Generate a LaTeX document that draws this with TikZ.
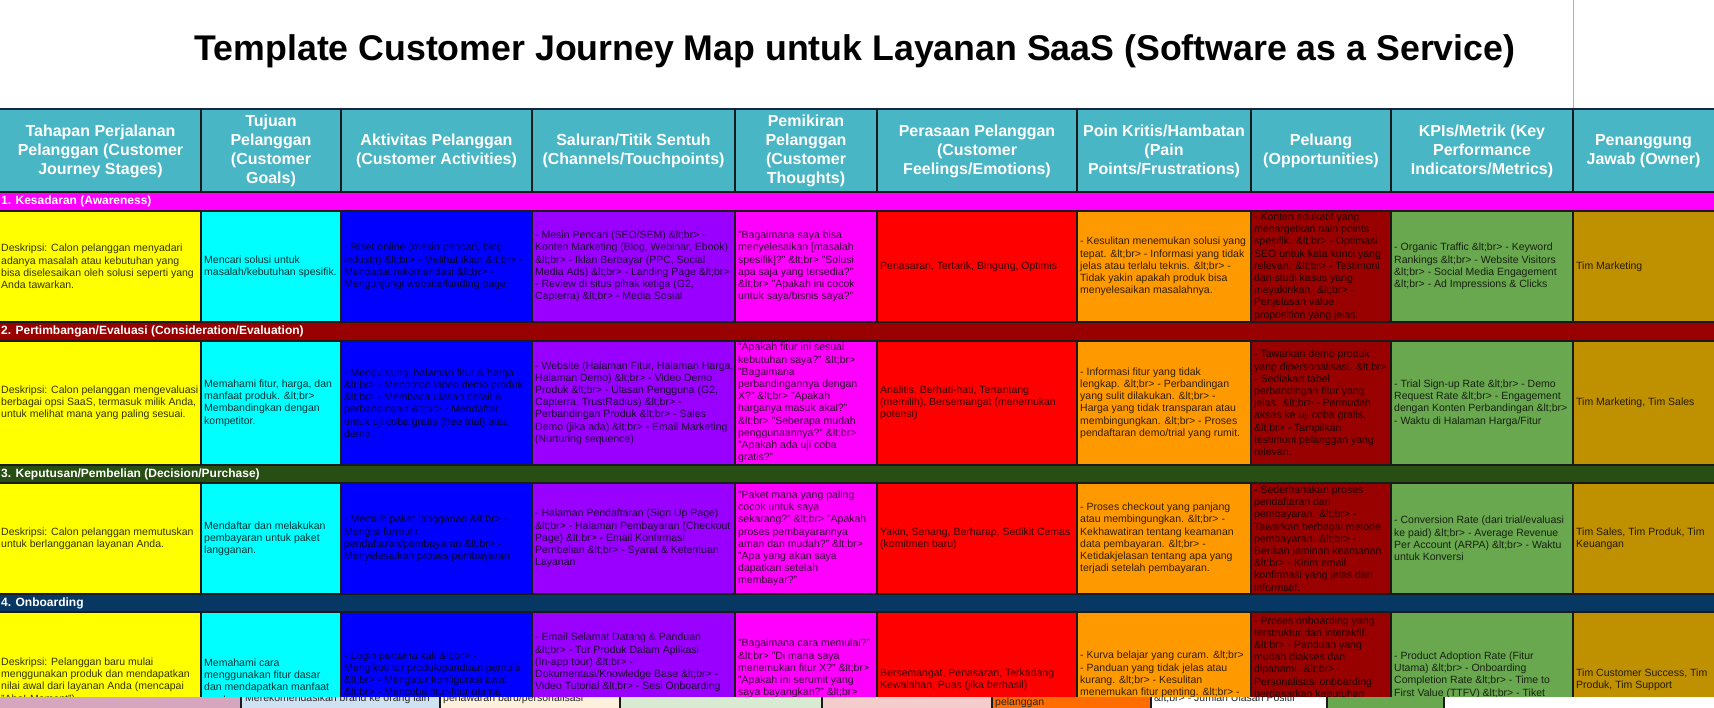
\documentclass[tikz,border=0pt]{standalone}
\usepackage{fontspec}
\setmainfont{Liberation Sans}
\definecolor{hdr}{HTML}{48B6C4}
\definecolor{bandA}{HTML}{FF00FF}
\definecolor{bandB}{HTML}{990000}
\definecolor{bandC}{HTML}{274E13}
\definecolor{bandD}{HTML}{073763}
\definecolor{cYel}{HTML}{FFFF00}
\definecolor{cCya}{HTML}{00FFFF}
\definecolor{cBlu}{HTML}{0000FF}
\definecolor{cPur}{HTML}{9900FF}
\definecolor{cMag}{HTML}{FF00FF}
\definecolor{cRed}{HTML}{FF0000}
\definecolor{cOra}{HTML}{FF9900}
\definecolor{cDrd}{HTML}{990000}
\definecolor{cGrn}{HTML}{6AA84F}
\definecolor{cGld}{HTML}{BF9000}
\definecolor{sPink}{HTML}{D5A6BD}
\definecolor{sBlue}{HTML}{CFE2F3}
\definecolor{sCream}{HTML}{FDF0DC}
\definecolor{sGreen}{HTML}{D9EAD3}
\definecolor{sRose}{HTML}{F4CCCC}
\definecolor{sOrange}{HTML}{FF6D01}
\definecolor{gridc}{HTML}{1A1A1A}
\definecolor{navyline}{HTML}{0E2A47}
\definecolor{thinline}{HTML}{9FB3C8}
% name, x1, x2, y1, y2, fill, text x, text y, text
\newcommand\cellbox[9]{%
  \begin{scope}
    \clip (#2,#4) rectangle (#3,#5);
    \fill[#6] (#2,#4) rectangle (#3,#5);
    \node[celltext, anchor=west] (#1) at (#7,#8) {#9};
  \end{scope}}
\begin{document}
\begin{tikzpicture}[x=1pt,y=-1pt,
  celltext/.style={inner sep=0pt, align=left, text=black, text opacity=0.8,
    font=\fontsize{10.5}{12.2}\selectfont},
  headtext/.style={inner sep=0pt, align=center, text=white,
    font=\bfseries\fontsize{16}{19}\selectfont},
  bandtext/.style={inner sep=0pt, anchor=west, text=white,
    font=\bfseries\fontsize{12}{14}\selectfont},
  striptext/.style={inner sep=0pt, anchor=base west, text=black!85,
    font=\fontsize{10.5}{12.2}\selectfont},
  gridline/.style={draw=gridc, line width=1.1pt},
]
\useasboundingbox (0,0) rectangle (1714,708);
\fill[white] (0,0) rectangle (1714,708);

% title
\draw[thinline, line width=1pt] (1573,0) -- (1573,109);
\node[inner sep=0pt, anchor=base, font=\bfseries\fontsize{35.7}{40}\selectfont] (title) at (855,61)
  {Template Customer Journey Map untuk Layanan SaaS (Software as a Service)};

% header row
\fill[hdr] (0,109) rectangle (1714,192);
\node[headtext] (h1) at (100.5,151) {Tahapan Perjalanan\\Pelanggan (Customer\\Journey Stages)};
\node[headtext] (h2) at (271,151) {Tujuan\\Pelanggan\\(Customer\\Goals)};
\node[headtext] (h3) at (436.5,151) {Aktivitas Pelanggan\\(Customer Activities)};
\node[headtext] (h4) at (633.5,151) {Saluran/Titik Sentuh\\(Channels/Touchpoints)};
\node[headtext] (h5) at (806,151) {Pemikiran\\Pelanggan\\(Customer\\Thoughts)};
\node[headtext] (h6) at (977,151) {Perasaan Pelanggan\\(Customer\\Feelings/Emotions)};
\node[headtext] (h7) at (1164,151) {Poin Kritis/Hambatan\\(Pain\\Points/Frustrations)};
\node[headtext] (h8) at (1321,151) {Peluang\\(Opportunities)};
\node[headtext] (h9) at (1482,151) {KPIs/Metrik (Key\\Performance\\Indicators/Metrics)};
\node[headtext] (h10) at (1643.5,151) {Penanggung\\Jawab (Owner)};

% bands
\fill[bandA] (0,192) rectangle (1714,211);
\node[bandtext] (b1) at (1,201.5) {1. Kesadaran (Awareness)};
\fill[bandB] (0,322) rectangle (1714,341);
\node[bandtext] (b2) at (1,331.5) {2. Pertimbangan/Evaluasi (Consideration/Evaluation)};
\fill[bandC] (0,465) rectangle (1714,483);
\node[bandtext] (b3) at (1,474) {3. Keputusan/Pembelian (Decision/Purchase)};
\fill[bandD] (0,594) rectangle (1714,612);
\node[bandtext] (b4) at (1,603) {4. Onboarding};

% ---------- row 1 ----------
\cellbox{r1c1}{0}{201}{211}{322}{cYel}{1}{266.5}{Deskripsi: Calon pelanggan menyadari\\adanya masalah atau kebutuhan yang\\bisa diselesaikan oleh solusi seperti yang\\Anda tawarkan.}
\cellbox{r1c2}{201}{341}{211}{322}{cCya}{204}{266.5}{Mencari solusi untuk\\masalah/kebutuhan spesifik.}
\cellbox{r1c3}{341}{532}{211}{322}{cBlu}{344}{266.5}{- Riset online (mesin pencari, blog\\industri) \&lt;br> - Melihat iklan \&lt;br> -\\Mendapat rekomendasi \&lt;br> -\\Mengunjungi website/landing page}
\cellbox{r1c4}{532}{735}{211}{322}{cPur}{535}{266.5}{- Mesin Pencari (SEO/SEM) \&lt;br> -\\Konten Marketing (Blog, Webinar, Ebook)\\\&lt;br> - Iklan Berbayar (PPC, Social\\Media Ads) \&lt;br> - Landing Page \&lt;br>\\- Review di situs pihak ketiga (G2,\\Capterra) \&lt;br> - Media Sosial}
\cellbox{r1c5}{735}{877}{211}{322}{cMag}{738}{266.5}{"Bagaimana saya bisa\\menyelesaikan [masalah\\spesifik]?" \&lt;br> "Solusi\\apa saja yang tersedia?"\\\&lt;br> "Apakah ini cocok\\untuk saya/bisnis saya?"}
\cellbox{r1c6}{877}{1077}{211}{322}{cRed}{880}{266.5}{Penasaran, Tertarik, Bingung, Optimis}
\cellbox{r1c7}{1077}{1251}{211}{322}{cOra}{1080}{266.5}{- Kesulitan menemukan solusi yang\\tepat. \&lt;br> - Informasi yang tidak\\jelas atau terlalu teknis. \&lt;br> -\\Tidak yakin apakah produk bisa\\menyelesaikan masalahnya.}
\cellbox{r1c8}{1251}{1391}{211}{322}{cDrd}{1254}{266.5}{- Konten edukatif yang\\menargetkan pain points\\spesifik. \&lt;br> - Optimasi\\SEO untuk kata kunci yang\\relevan. \&lt;br> - Testimoni\\dan studi kasus yang\\meyakinkan. \&lt;br> -\\Penjelasan value\\proposition yang jelas.}
\cellbox{r1c9}{1391}{1573}{211}{322}{cGrn}{1394}{266.5}{- Organic Traffic \&lt;br> - Keyword\\Rankings \&lt;br> - Website Visitors\\\&lt;br> - Social Media Engagement\\\&lt;br> - Ad Impressions \& Clicks}
\cellbox{r1c10}{1573}{1714}{211}{322}{cGld}{1576}{266.5}{Tim Marketing}

% ---------- row 2 ----------
\cellbox{r2c1}{0}{201}{341}{465}{cYel}{1}{403}{Deskripsi: Calon pelanggan mengevaluasi\\berbagai opsi SaaS, termasuk milik Anda,\\untuk melihat mana yang paling sesuai.}
\cellbox{r2c2}{201}{341}{341}{465}{cCya}{204}{403}{Memahami fitur, harga, dan\\manfaat produk. \&lt;br>\\Membandingkan dengan\\kompetitor.}
\cellbox{r2c3}{341}{532}{341}{465}{cBlu}{344}{403}{- Mengunjungi halaman fitur \& harga\\\&lt;br> - Menonton video demo produk\\\&lt;br> - Membaca ulasan detail \&\\perbandingan \&lt;br> - Mendaftar\\untuk uji coba gratis (free trial) atau\\demo}
\cellbox{r2c4}{532}{735}{341}{465}{cPur}{535}{403}{- Website (Halaman Fitur, Halaman Harga,\\Halaman Demo) \&lt;br> - Video Demo\\Produk \&lt;br> - Ulasan Pengguna (G2,\\Capterra, TrustRadius) \&lt;br> -\\Perbandingan Produk \&lt;br> - Sales\\Demo (jika ada) \&lt;br> - Email Marketing\\(Nurturing sequence)}
\cellbox{r2c5}{735}{877}{341}{465}{cMag}{738}{403}{"Apakah fitur ini sesuai\\kebutuhan saya?" \&lt;br>\\"Bagaimana\\perbandingannya dengan\\X?" \&lt;br> "Apakah\\harganya masuk akal?"\\\&lt;br> "Seberapa mudah\\penggunaannya?" \&lt;br>\\"Apakah ada uji coba\\gratis?"}
\cellbox{r2c6}{877}{1077}{341}{465}{cRed}{880}{403}{Analitis, Berhati-hati, Tertantang\\(memilih), Bersemangat (menemukan\\potensi)}
\cellbox{r2c7}{1077}{1251}{341}{465}{cOra}{1080}{403}{- Informasi fitur yang tidak\\lengkap. \&lt;br> - Perbandingan\\yang sulit dilakukan. \&lt;br> -\\Harga yang tidak transparan atau\\membingungkan. \&lt;br> - Proses\\pendaftaran demo/trial yang rumit.}
\cellbox{r2c8}{1251}{1391}{341}{465}{cDrd}{1254}{403}{- Tawarkan demo produk\\yang dipersonalisasi. \&lt;br>\\- Sediakan tabel\\perbandingan fitur yang\\jelas. \&lt;br> - Permudah\\akses ke uji coba gratis.\\\&lt;br> - Tampilkan\\testimoni pelanggan yang\\relevan.}
\cellbox{r2c9}{1391}{1573}{341}{465}{cGrn}{1394}{403}{- Trial Sign-up Rate \&lt;br> - Demo\\Request Rate \&lt;br> - Engagement\\dengan Konten Perbandingan \&lt;br>\\- Waktu di Halaman Harga/Fitur}
\cellbox{r2c10}{1573}{1714}{341}{465}{cGld}{1576}{403}{Tim Marketing, Tim Sales}

% ---------- row 3 ----------
\cellbox{r3c1}{0}{201}{483}{594}{cYel}{1}{538.5}{Deskripsi: Calon pelanggan memutuskan\\untuk berlangganan layanan Anda.}
\cellbox{r3c2}{201}{341}{483}{594}{cCya}{204}{538.5}{Mendaftar dan melakukan\\pembayaran untuk paket\\langganan.}
\cellbox{r3c3}{341}{532}{483}{594}{cBlu}{344}{538.5}{- Memilih paket langganan \&lt;br> -\\Mengisi formulir\\pendaftaran/pembayaran \&lt;br> -\\Menyelesaikan proses pembayaran}
\cellbox{r3c4}{532}{735}{483}{594}{cPur}{535}{538.5}{- Halaman Pendaftaran (Sign Up Page)\\\&lt;br> - Halaman Pembayaran (Checkout\\Page) \&lt;br> - Email Konfirmasi\\Pembelian \&lt;br> - Syarat \& Ketentuan\\Layanan}
\cellbox{r3c5}{735}{877}{483}{594}{cMag}{738}{538.5}{"Paket mana yang paling\\cocok untuk saya\\sekarang?" \&lt;br> "Apakah\\proses pembayarannya\\aman dan mudah?" \&lt;br>\\"Apa yang akan saya\\dapatkan setelah\\membayar?"}
\cellbox{r3c6}{877}{1077}{483}{594}{cRed}{880}{538.5}{Yakin, Senang, Berharap, Sedikit Cemas\\(komitmen baru)}
\cellbox{r3c7}{1077}{1251}{483}{594}{cOra}{1080}{538.5}{- Proses checkout yang panjang\\atau membingungkan. \&lt;br> -\\Kekhawatiran tentang keamanan\\data pembayaran. \&lt;br> -\\Ketidakjelasan tentang apa yang\\terjadi setelah pembayaran.}
\cellbox{r3c8}{1251}{1391}{483}{594}{cDrd}{1254}{538.5}{- Sederhanakan proses\\pendaftaran dan\\pembayaran. \&lt;br> -\\Tawarkan berbagai metode\\pembayaran. \&lt;br> -\\Berikan jaminan keamanan.\\\&lt;br> - Kirim email\\konfirmasi yang jelas dan\\informatif.}
\cellbox{r3c9}{1391}{1573}{483}{594}{cGrn}{1394}{538.5}{- Conversion Rate (dari trial/evaluasi\\ke paid) \&lt;br> - Average Revenue\\Per Account (ARPA) \&lt;br> - Waktu\\untuk Konversi}
\cellbox{r3c10}{1573}{1714}{483}{594}{cGld}{1576}{538.5}{Tim Sales, Tim Produk, Tim\\Keuangan}

% ---------- row 4 (cut by the strip) ----------
\cellbox{r4c1}{0}{201}{612}{708}{cYel}{1}{681}{Deskripsi: Pelanggan baru mulai\\menggunakan produk dan mendapatkan\\nilai awal dari layanan Anda (mencapai\\"Aha! Moment").}
\cellbox{r4c2}{201}{341}{612}{708}{cCya}{204}{681}{Memahami cara\\menggunakan fitur dasar\\dan mendapatkan manfaat\\awal.}
\cellbox{r4c3}{341}{532}{612}{708}{cBlu}{344}{674.5}{- Login pertama kali \&lt;br> -\\Mengikuti tur produk/panduan pemula\\\&lt;br> - Mengatur konfigurasi awal\\\&lt;br> - Mencoba fitur-fitur utama}
\cellbox{r4c4}{532}{735}{612}{708}{cPur}{535}{662.5}{- Email Selamat Datang \& Panduan\\\&lt;br> - Tur Produk Dalam Aplikasi\\(In-app tour) \&lt;br> -\\Dokumentasi/Knowledge Base \&lt;br> -\\Video Tutorial \&lt;br> - Sesi Onboarding}
\cellbox{r4c5}{735}{877}{612}{708}{cMag}{738}{668.5}{"Bagaimana cara memulai?"\\\&lt;br> "Di mana saya\\menemukan fitur X?" \&lt;br>\\"Apakah ini serumit yang\\saya bayangkan?" \&lt;br>}
\cellbox{r4c6}{877}{1077}{612}{708}{cRed}{880}{680}{Bersemangat, Penasaran, Terkadang\\Kewalahan, Puas (jika berhasil)}
\cellbox{r4c7}{1077}{1251}{612}{708}{cOra}{1080}{674.5}{- Kurva belajar yang curam. \&lt;br>\\- Panduan yang tidak jelas atau\\kurang. \&lt;br> - Kesulitan\\menemukan fitur penting. \&lt;br> -}
\cellbox{r4c8}{1251}{1391}{612}{708}{cDrd}{1254}{657}{- Proses onboarding yang\\terstruktur dan interaktif.\\\&lt;br> - Panduan yang\\mudah diakses dan\\dipahami. \&lt;br> -\\Personalisasi onboarding\\berdasarkan kebutuhan}
\cellbox{r4c9}{1391}{1573}{612}{708}{cGrn}{1394}{675}{- Product Adoption Rate (Fitur\\Utama) \&lt;br> - Onboarding\\Completion Rate \&lt;br> - Time to\\First Value (TTFV) \&lt;br> - Tiket}
\cellbox{r4c10}{1573}{1714}{612}{708}{cGld}{1576}{680}{Tim Customer Success, Tim\\Produk, Tim Support}

% ---------- grid ----------
\draw[navyline, line width=2pt] (0,109) -- (1714,109);
\foreach \yy in {192,211,322,341,465,483,594,612}
  \draw[gridline] (0,\yy) -- (1714,\yy);
\foreach \xx in {201,341,532,735,877,1077,1251,1391,1573}{
  \draw[gridline] (\xx,109) -- (\xx,192);
  \draw[gridline] (\xx,211) -- (\xx,322);
  \draw[gridline] (\xx,341) -- (\xx,465);
  \draw[gridline] (\xx,483) -- (\xx,594);
  \draw[gridline] (\xx,612) -- (\xx,708);
}

% ---------- bottom strip (fragment of a further row) ----------
\begin{scope}
  \clip (0,697) rectangle (1714,708);
  \fill[sPink] (0,697) rectangle (241,708);
  \fill[sBlue] (241,697) rectangle (440,708);
  \fill[sCream] (440,697) rectangle (620,708);
  \fill[sGreen] (620,697) rectangle (822,708);
  \fill[sRose] (822,697) rectangle (992,708);
  \fill[sOrange] (992,697) rectangle (1151,708);
  \fill[white] (1151,697) rectangle (1327,708);
  \fill[cGrn] (1327,697) rectangle (1444,708);
  \fill[white] (1444,697) rectangle (1714,708);
  \node[striptext] (s1) at (245,701) {Merekomendasikan brand ke orang lain};
  \node[striptext] (s2) at (443,701) {penawaran baru/personalisasi};
  \node[striptext] (s3) at (995,705.5) {pelanggan};
  \node[striptext] (s4) at (1154,701) {\&lt;br> - Jumlah Ulasan Positif};
  \foreach \xx in {241,440,620,822,992,1151,1327,1444}
    \draw[gridline] (\xx,697) -- (\xx,708);
\end{scope}
\end{tikzpicture}
\end{document}
